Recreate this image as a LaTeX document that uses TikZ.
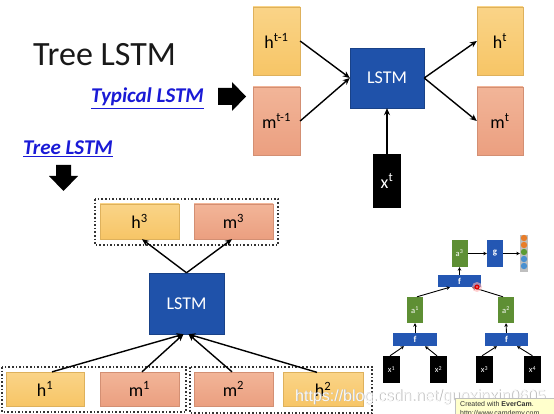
\documentclass[tikz,border=0pt]{standalone}
\usepackage{fontspec}
\setmainfont{Carlito}
\newfontfamily\wmfont{Liberation Sans}
\usetikzlibrary{arrows.meta}
\definecolor{yelTop}{HTML}{FAD488}
\definecolor{yelBot}{HTML}{F7C566}
\definecolor{salTop}{HTML}{F2B598}
\definecolor{salBot}{HTML}{EB9F80}
\definecolor{lstmblue}{HTML}{1F52AA}
\definecolor{titleblue}{HTML}{1A1AD6}
\definecolor{smgreen}{HTML}{5E8F34}
\definecolor{smblue}{HTML}{2457B3}
\definecolor{cOr}{HTML}{E87D2A}
\definecolor{cGr}{HTML}{5B9B34}
\definecolor{cBl}{HTML}{4A90D0}
\definecolor{evbg}{HTML}{FFFFCC}
\begin{document}
\begin{tikzpicture}[x=1pt,y=-1pt,
  ybox/.style={top color=yelTop,bottom color=yelBot,draw=yelBot!90!black,line width=0.3pt,inner sep=0pt,font=\fontsize{18}{18}\selectfont},
  sbox/.style={top color=salTop,bottom color=salBot,draw=salBot!90!black,line width=0.3pt,inner sep=0pt,font=\fontsize{18}{18}\selectfont},
  lstmbox/.style={fill=lstmblue,draw=lstmblue!80!black,line width=0.4pt,text=white,inner sep=0pt,font=\fontsize{18}{18}\selectfont},
  arr/.style={-{Stealth[length=7pt,width=6pt]},line width=1.4pt},
  sarr/.style={-{Stealth[length=3.5pt,width=3.5pt]},line width=0.9pt},
  gbox/.style={fill=smgreen,text=white,inner sep=0pt,minimum width=16pt,minimum height=26pt,font=\fontsize{8.5}{8.5}\selectfont},
  bbox/.style={fill=smblue,text=white,inner sep=0pt,font=\fontsize{9}{9}\selectfont\bfseries},
  xbox/.style={fill=black,text=white,inner sep=0pt,minimum width=17pt,minimum height=27pt,font=\fontsize{8.5}{8.5}\selectfont},
  dotbox/.style={draw=black!80,dotted,line width=1.6pt},
  blockarrow/.style={fill=black},
  bluetitle/.style={text=titleblue,font=\fontsize{21}{21}\selectfont\bfseries\itshape,inner sep=0pt,anchor=base west}
]
\useasboundingbox[fill=white] (0,0) rectangle (554,414);

% titles
\node[anchor=base west,inner sep=0pt,font=\fontsize{34}{34}\selectfont,text=black!90] (title) at (33,66) {Tree LSTM};
\node[bluetitle] (typ) at (91,103) {\underline{Typical LSTM}};
\node[bluetitle] (tre) at (23,155) {\underline{Tree LSTM}};
\fill[blockarrow] (218,88) -- (232,88) -- (232,82) -- (246,96.5) -- (232,111) -- (232,105) -- (218,105) -- cycle;
\fill[blockarrow] (56,165) -- (71,165) -- (71,176) -- (78,176) -- (63.5,191) -- (49,176) -- (56,176) -- cycle;

% typical LSTM
\node[ybox,minimum width=47pt,minimum height=68pt] (ht1) at (276.5,41) {h\textsuperscript{t-1}};
\node[sbox,minimum width=47pt,minimum height=68pt] (mt1) at (276.5,121) {m\textsuperscript{t-1}};
\node[lstmbox,minimum width=74pt,minimum height=60pt] (lA) at (387,78) {LSTM};
\node[ybox,minimum width=46pt,minimum height=68pt] (ht) at (500,41) {h\textsuperscript{t}};
\node[sbox,minimum width=46pt,minimum height=68pt] (mt) at (500,121) {m\textsuperscript{t}};
\node[fill=black,text=white,inner sep=0pt,minimum width=28pt,minimum height=54pt,font=\fontsize{18}{18}\selectfont] (xt) at (387,181) {x\textsuperscript{t}};
\draw[arr] (ht1.east) -- (lA.west);
\draw[arr] (mt1.east) -- (lA.west);
\draw[arr] (lA.east) -- (ht.west);
\draw[arr] (lA.east) -- (mt.west);
\draw[arr] (xt.north) -- (lA.south);

% tree LSTM
\draw[dotbox] (95,199) rectangle (278,245);
\draw[dotbox] (2,367) rectangle (186,412);
\draw[dotbox] (190,367) rectangle (372,413);
\node[ybox,minimum width=79pt,minimum height=35pt] (h3) at (139.5,221.5) {h\textsuperscript{3}};
\node[sbox,minimum width=79pt,minimum height=35pt] (m3) at (233.5,221.5) {m\textsuperscript{3}};
\node[lstmbox,minimum width=75pt,minimum height=61pt] (lB) at (186.5,303.5) {LSTM};
\node[ybox,minimum width=78pt,minimum height=34pt] (h1) at (45,389) {h\textsuperscript{1}};
\node[sbox,minimum width=79pt,minimum height=34pt] (m1) at (139.5,389) {m\textsuperscript{1}};
\node[sbox,minimum width=79pt,minimum height=34pt] (m2) at (233.5,389) {m\textsuperscript{2}};
\node[ybox,minimum width=80pt,minimum height=34pt] (h2) at (323,389.5) {h\textsuperscript{2}};
\draw[arr] (lB.north) -- ([xshift=2.5pt]h3.south);
\draw[arr] (lB.north) -- ([xshift=-1.5pt]m3.south);
\draw[arr] ([xshift=7pt]h1.north) -- ([xshift=-3pt]lB.south);
\draw[arr] ([xshift=2.5pt]m1.north) -- ([xshift=-3pt]lB.south);
\draw[arr] ([xshift=-1.5pt]m2.north) -- ([xshift=2pt]lB.south);
\draw[arr] ([xshift=-6pt]h2.north) -- ([xshift=2pt]lB.south);

% small tree (right bottom)
\node[gbox,minimum height=27pt] (a3) at (459.5,253.5) {a\textsuperscript{3}};
\node[bbox,minimum width=16pt,minimum height=27pt] (g) at (495,253.5) {g};
\node[fill=black!25,inner sep=0pt,minimum width=8pt,minimum height=37pt] (vec) at (524,253.5) {};
\foreach \yy/\cc in {238/cOr,245/cOr,252/cGr,259/cBl,266/cBl}
  \fill[\cc] (524,\yy) circle (3.2pt);
\node[bbox,minimum width=43pt,minimum height=12pt] (fT) at (459.5,281) {f};
\node[gbox] (a1) at (415,310) {a\textsuperscript{1}};
\node[gbox] (a2) at (506,310) {a\textsuperscript{2}};
\node[bbox,minimum width=44pt,minimum height=13pt] (fL) at (415,339.5) {f};
\node[bbox,minimum width=43pt,minimum height=13pt] (fR) at (506.5,339.5) {f};
\node[xbox] (x1) at (391.5,369.5) {x\textsuperscript{1}};
\node[xbox] (x2) at (438.5,369.5) {x\textsuperscript{2}};
\node[xbox] (x3) at (484.5,369.5) {x\textsuperscript{3}};
\node[xbox] (x4) at (532.5,369.5) {x\textsuperscript{4}};
\draw[sarr] (a3.east) -- (g.west);
\draw[sarr] (g.east) -- (vec.west);
\draw[sarr] (fT.north) -- (a3.south);
\draw[sarr] ([xshift=2pt]a1.north) -- ([xshift=-9.5pt]fT.south);
\draw[sarr] ([xshift=-3pt]a2.north) -- ([xshift=12.5pt]fT.south);
\draw[sarr] (fL.north) -- (a1.south);
\draw[sarr] (fR.north) -- (a2.south);
\draw[sarr] ([xshift=-1.5pt]x1.north) -- ([xshift=-11pt]fL.south);
\draw[sarr] ([xshift=-1.5pt]x2.north) -- ([xshift=10pt]fL.south);
\draw[sarr] ([xshift=-2.5pt]x3.north) -- ([xshift=-9.5pt]fR.south);
\draw[sarr] (x4.north) -- ([xshift=10.5pt]fR.south);
\fill[red!30,opacity=0.6] (477,287) circle (5pt);
\fill[red!85!black] (477,287) circle (2.6pt);
\fill[white!70!red] (477,287) circle (0.9pt);

% watermark
\node[anchor=base west,inner sep=0pt,font=\wmfont\fontsize{16}{16}\selectfont,text=black!30] (wms) at (295.6,401.6) {https://blog.csdn.net/guoxinxin0605};
\node[anchor=base west,inner sep=0pt,font=\wmfont\fontsize{16}{16}\selectfont,text=white,opacity=0.9] (wm) at (295,401) {https://blog.csdn.net/guoxinxin0605};

% EverCam badge
\draw[fill=evbg,draw=black!25,line width=0.4pt] (455,398) rectangle (560,420);
\node[anchor=base west,inner sep=0pt,font=\wmfont\fontsize{7}{7}\selectfont,text=black!80] (ev1) at (460,406) {Created with \textbf{EverCam}.};
\node[anchor=base west,inner sep=0pt,font=\wmfont\fontsize{7}{7}\selectfont,text=black!80] (ev2) at (460,415) {http://www.camdemy.com};
\end{tikzpicture}
\end{document}
